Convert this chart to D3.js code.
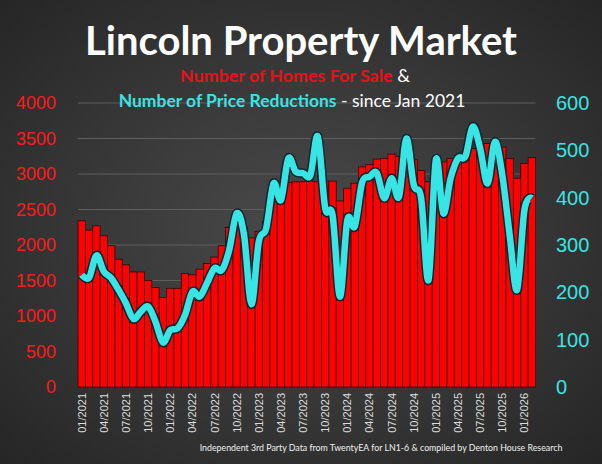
<!DOCTYPE html>
<html>
<head>
<meta charset="utf-8">
<style>
body { margin: 0; background: #333; }
svg { display: block; }
text { font-family: Lato, "Open Sans", sans-serif; }
</style>
</head>
<body>
<svg width="602" height="464"></svg>
<script src="https://cdn.jsdelivr.net/npm/d3@7"></script>
<script>
// monthly categories, 01/2021 .. 02/2026
var months = [
  "01/2021","02/2021","03/2021","04/2021","05/2021","06/2021","07/2021","08/2021","09/2021","10/2021","11/2021","12/2021",
  "01/2022","02/2022","03/2022","04/2022","05/2022","06/2022","07/2022","08/2022","09/2022","10/2022","11/2022","12/2022",
  "01/2023","02/2023","03/2023","04/2023","05/2023","06/2023","07/2023","08/2023","09/2023","10/2023","11/2023","12/2023",
  "01/2024","02/2024","03/2024","04/2024","05/2024","06/2024","07/2024","08/2024","09/2024","10/2024","11/2024","12/2024",
  "01/2025","02/2025","03/2025","04/2025","05/2025","06/2025","07/2025","08/2025","09/2025","10/2025","11/2025","12/2025",
  "01/2026","02/2026"
];

// number of homes for sale (left axis)
var homesForSale = [
  2340,2210,2270,2130,1990,1800,1720,1620,1620,1500,1400,1260,
  1390,1390,1600,1580,1660,1740,1830,1990,2250,2350,2250,2100,
  2190,2330,2700,2890,2880,2890,2890,2900,2890,2900,2900,2620,
  2800,2870,3100,3130,3210,3220,3280,3250,3300,3200,3050,2890,
  3100,3170,3220,3250,3270,3360,3400,3430,3460,3380,3220,2940,
  3150,3230
];

// number of price reductions (right axis)
var priceReductions = [
  237,231,278,244,230,205,177,144,159,170,138,94,
  120,124,152,201,191,220,251,247,290,367,321,175,
  307,335,430,395,483,455,452,448,529,378,363,191,
  353,339,432,444,452,399,441,402,525,427,399,226,
  480,367,441,483,487,550,504,430,518,448,321,205,
  374,399
];

var tickLabels = ["01/2021","04/2021","07/2021","10/2021","01/2022","04/2022","07/2022","10/2022",
  "01/2023","04/2023","07/2023","10/2023","01/2024","04/2024","07/2024","10/2024",
  "01/2025","04/2025","07/2025","10/2025","01/2026"];
var leftTicks = [0,500,1000,1500,2000,2500,3000,3500,4000];
var rightTicks = [0,100,200,300,400,500,600];

var svg = d3.select("svg"),
    width = +svg.attr("width"),
    height = +svg.attr("height");

var red = "#ff0000",
    cyan = "#38e4e4";

// background
var defs = svg.append("defs");
var grad = defs.append("radialGradient")
    .attr("id", "bg")
    .attr("cx", "50%").attr("cy", "50%").attr("r", "70%");
grad.append("stop").attr("offset", "0%").attr("stop-color", "#4a4a4a");
grad.append("stop").attr("offset", "100%").attr("stop-color", "#262626");
svg.append("rect")
    .attr("width", width)
    .attr("height", height)
    .attr("fill", "url(#bg)");

var x = d3.scaleBand()
    .domain(months)
    .range([78, 535.5])
    .padding(0);

var yL = d3.scaleLinear().domain([0, 4000]).range([387, 103]);
var yR = d3.scaleLinear().domain([0, 600]).range([387, 103]);

// gridlines
svg.append("g")
  .selectAll("line")
  .data(leftTicks.slice(1))
  .enter().append("line")
    .attr("x1", 78)
    .attr("x2", 535.5)
    .attr("y1", function(d) { return yL(d); })
    .attr("y2", function(d) { return yL(d); })
    .attr("stroke", "#5e5e5e")
    .attr("stroke-width", 1);

// bars
svg.append("g")
  .selectAll("rect")
  .data(homesForSale)
  .enter().append("rect")
    .attr("x", function(d, i) { return x(months[i]); })
    .attr("y", function(d) { return yL(d); })
    .attr("width", x.bandwidth())
    .attr("height", function(d) { return yL(0) - yL(d); })
    .attr("fill", red)
    .attr("stroke", "#3a0000")
    .attr("stroke-width", 0.8);

// price reductions line
var line = d3.line()
    .x(function(d, i) { return x(months[i]) + x.bandwidth() / 2; })
    .y(function(d) { return yR(d); })
    .curve(d3.curveCardinal.tension(0));

svg.append("path")
    .datum(priceReductions)
    .attr("d", line)
    .attr("fill", "none")
    .attr("stroke", "#10262e")
    .attr("stroke-width", 9.5)
    .attr("stroke-linejoin", "round");

svg.append("path")
    .datum(priceReductions)
    .attr("d", line)
    .attr("fill", "none")
    .attr("stroke", cyan)
    .attr("stroke-width", 6.5)
    .attr("stroke-linejoin", "round");

// left axis
svg.append("g")
  .selectAll("text")
  .data(leftTicks)
  .enter().append("text")
    .attr("x", 56)
    .attr("y", function(d) { return yL(d); })
    .attr("dy", "0.35em")
    .attr("text-anchor", "end")
    .attr("fill", "#ff1a1a")
    .style("font-family", "'Liberation Sans', Arial, sans-serif")
    .style("font-size", "18px")
    .text(function(d) { return d; });

// right axis
svg.append("g")
  .selectAll("text")
  .data(rightTicks)
  .enter().append("text")
    .attr("x", 556)
    .attr("y", function(d) { return yR(d); })
    .attr("dy", "0.35em")
    .attr("fill", cyan)
    .style("font-family", "'Liberation Sans', Arial, sans-serif")
    .style("font-size", "20px")
    .text(function(d) { return d; });

// x tick labels
svg.append("g")
  .selectAll("text")
  .data(tickLabels)
  .enter().append("text")
    .attr("transform", function(d) {
      return "translate(" + (x(d) + x.bandwidth() / 2 + 4) + ",393) rotate(-90)";
    })
    .attr("text-anchor", "end")
    .attr("fill", "#dcdcdc")
    .style("font-family", "'Liberation Sans', Arial, sans-serif")
    .style("font-size", "11px")
    .text(function(d) { return d; });

// fit a text element to a target width by scaling its font size
function fit(sel, target) {
  var w = sel.node().getComputedTextLength();
  var fs = parseFloat(sel.style("font-size"));
  sel.style("font-size", (fs * target / w) + "px");
}

var title = svg.append("text")
    .attr("x", 301)
    .attr("y", 55)
    .attr("text-anchor", "middle")
    .attr("fill", "#fff")
    .style("font-weight", "bold")
    .style("font-size", "38px")
    .text("Lincoln Property Market");
fit(title, 432);

var sub1 = svg.append("text")
    .attr("x", 295)
    .attr("y", 82)
    .attr("text-anchor", "middle")
    .style("font-size", "17px");
sub1.append("tspan")
    .attr("fill", "#e3121b")
    .style("font-weight", "bold")
    .text("Number of Homes For Sale");
sub1.append("tspan")
    .attr("fill", "#fff")
    .text(" &");
fit(sub1, 230);

var sub2 = svg.append("text")
    .attr("x", 292)
    .attr("y", 107)
    .attr("text-anchor", "middle")
    .style("font-size", "17px");
sub2.append("tspan")
    .attr("fill", cyan)
    .style("font-weight", "bold")
    .text("Number of Price Reductions");
sub2.append("tspan")
    .attr("fill", "#fff")
    .text(" - since Jan 2021");
fit(sub2, 347);

var foot = svg.append("text")
    .attr("x", 381)
    .attr("y", 451)
    .attr("text-anchor", "middle")
    .attr("fill", "#f0f0f0")
    .style("font-size", "9px")
    .text("Independent 3rd Party Data from TwentyEA for LN1-6 & compiled by Denton House Research");
fit(foot, 363);
</script>
</body>
</html>
